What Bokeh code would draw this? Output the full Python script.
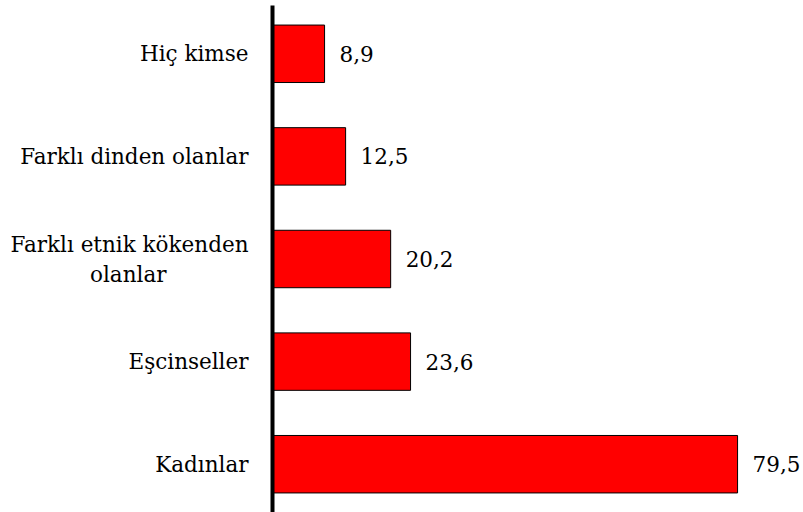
from bokeh.plotting import figure
from bokeh.models import Range1d, FactorRange, ColumnDataSource
from bokeh.core.properties import value
from bokeh.embed import file_html
from bokeh.resources import INLINE

categories = ["Kadınlar", "Eşcinseller",
              "Farklı etnik kökenden\nolanlar" + "\u00a0" * 12,
              "Farklı dinden olanlar", "Hiç kimse"]
values = [79.5, 23.6, 20.2, 12.5, 8.9]
value_labels = [f"{v:.1f}".replace(".", ",") for v in values]

AXIS_FONT = "DejaVu Serif"
TEXT_FONT = "DejaVu Serif"

src = ColumnDataSource(dict(cat=categories, val=values, lab=value_labels))

p = figure(width=803, height=512, output_backend="svg", toolbar_location=None,
           y_range=FactorRange(*categories, range_padding=-0.0294,
                               range_padding_units="absolute"),
           x_range=Range1d(0, 90.77), x_axis_location=None,
           min_border_left=272, min_border_right=0, min_border_top=5,
           min_border_bottom=0)

p.hbar(y="cat", right="val", left=0, height=0.56, source=src,
       fill_color="#FF0000", line_color="black", line_width=1)

p.text(x="val", y="cat", text="lab", source=src, x_offset=15,
       text_align="left", text_baseline="middle",
       text_font=value(TEXT_FONT), text_font_size="21.5px", text_color="black")

p.yaxis.axis_line_width=4
p.yaxis.axis_line_color="black"
p.yaxis.major_tick_line_color=None
p.yaxis.minor_tick_line_color=None
p.yaxis.major_tick_in=0
p.yaxis.major_tick_out=0
p.yaxis.major_label_standoff=24
p.yaxis.major_label_text_font=AXIS_FONT
p.yaxis.major_label_text_font_size="21.5px"
p.yaxis.major_label_text_color="black"

p.xgrid.visible=False
p.ygrid.visible=False
p.outline_line_color=None
p.background_fill_color="white"
p.border_fill_color="white"

open("out.html", "w").write(file_html(p, INLINE))
